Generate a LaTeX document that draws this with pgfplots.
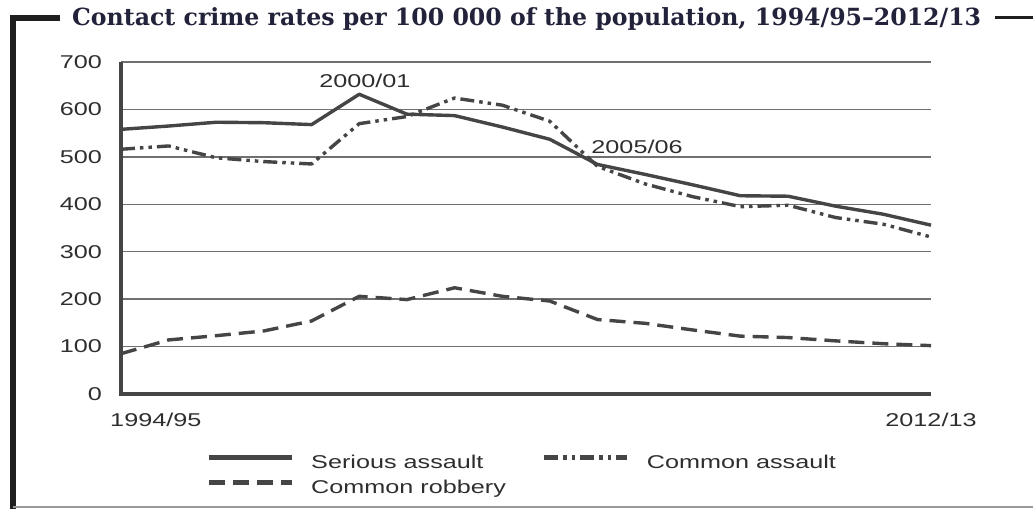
\documentclass[border=0pt]{standalone}
\usepackage{fontspec}
\usepackage{pgfplots}
\pgfplotsset{compat=1.18}
\newfontfamily\chartfont{Liberation Sans}[FakeStretch=1.36]
\newfontfamily\titlefont{DejaVu Serif}
\definecolor{ink}{HTML}{454545}
\definecolor{gridc}{HTML}{707070}
\definecolor{labc}{HTML}{2E2E2E}
\definecolor{titlec}{HTML}{22223A}
\newcommand{\lab}{\chartfont\fontsize{18.6}{20}\selectfont}

\begin{document}
\begin{tikzpicture}
\useasboundingbox (0,0) rectangle (1033bp,509bp);
% frame around the chart
\draw[line width=5.5bp, black!88] (13bp,-5bp) -- (13bp,491bp) -- (60bp,491bp);
\draw[line width=3bp, black!88] (995bp,491bp) -- (1040bp,491bp);
\draw[line width=2bp, black!40] (13bp,2bp) -- (1040bp,2bp);
\node[anchor=base west, inner sep=0pt, text=titlec,
      font=\titlefont\bfseries\fontsize{23.7}{26}\selectfont]
  at (72bp,483bp) {Contact crime rates per 100 000 of the population, 1994/95–2012/13};

\begin{axis}[
    at={(121bp,115bp)}, anchor=south west,
    width=810bp, height=332bp, scale only axis,
    xmin=0, xmax=17, ymin=0, ymax=700,
    axis x line*=bottom, axis y line*=left,
    axis line style={line width=4bp, color=ink},
    xtick=\empty,
    ytick={0,100,...,700},
    major tick length=0pt,
    ymajorgrids=true,
    grid style={line width=1.3bp, color=gridc},
    tick label style={font=\lab, text=labc},
    /pgf/number format/assume math mode=true,
    yticklabel style={inner xsep=0pt, xshift=-19bp},
    clip=false,
    legend columns=2,
    legend cell align=left,
    legend image code/.code={\draw[#1, line width=5bp] (0bp,6bp) -- (83bp,6bp);},
    legend style={
      at={(rel axis cs:0.105,-0.184)}, anchor=north west,
      draw=none, fill=none, inner sep=0pt,
      font=\lab, text=labc,
      nodes={inner sep=0pt, text height=13bp, text depth=4bp},
      row sep=8bp,
      /tikz/every odd column/.append style={column sep=17bp},
      /tikz/every even column/.append style={column sep=36bp},
    },
  ]

  \addplot[ink, line width=3.4bp, line join=round]
    coordinates {
      (0,558)(1,565)(2,573)(3,572)(4,568)(5,632)(6,590)(7,587)(8,563)
      (9,537)(10,484)(11,463)(12,441)(13,418)(14,417)(15,396)(16,379)(17,356)
    };
  \addlegendentry{Serious assault}

  \addplot[ink, line width=3.4bp, line join=round,
           dash pattern=on 14bp off 5bp on 3.5bp off 5bp on 3.5bp off 5bp]
    coordinates {
      (0,516)(1,523)(2,498)(3,490)(4,485)(5,570)(6,585)(7,624)(8,609)
      (9,575)(10,480)(11,443)(12,416)(13,395)(14,398)(15,372)(16,358)(17,331)
    };
  \addlegendentry{Common assault}

  \addplot[ink, line width=3.4bp, line join=round,
           dash pattern=on 16bp off 8bp]
    coordinates {
      (0,85)(1,114)(2,123)(3,133)(4,154)(5,206)(6,199)(7,224)(8,206)
      (9,196)(10,157)(11,149)(12,135)(13,122)(14,119)(15,112)(16,106)(17,102)
    };
  \addlegendentry{Common robbery}

  % heavier axis lines, as in the printed chart
  \draw[line width=4bp, ink] (rel axis cs:0,1) -- (rel axis cs:0,0) -- (rel axis cs:1,0);

  \node[font=\lab, text=labc] at (axis cs:5.12,660) {2000/01};
  \node[font=\lab, text=labc] at (axis cs:10.83,521) {2005/06};
  \node[font=\lab, text=labc, anchor=west, inner sep=0pt] at (axis cs:-0.23,-55) {1994/95};
  \node[font=\lab, text=labc] at (axis cs:17,-55) {2012/13};
\end{axis}
\end{tikzpicture}
\end{document}
